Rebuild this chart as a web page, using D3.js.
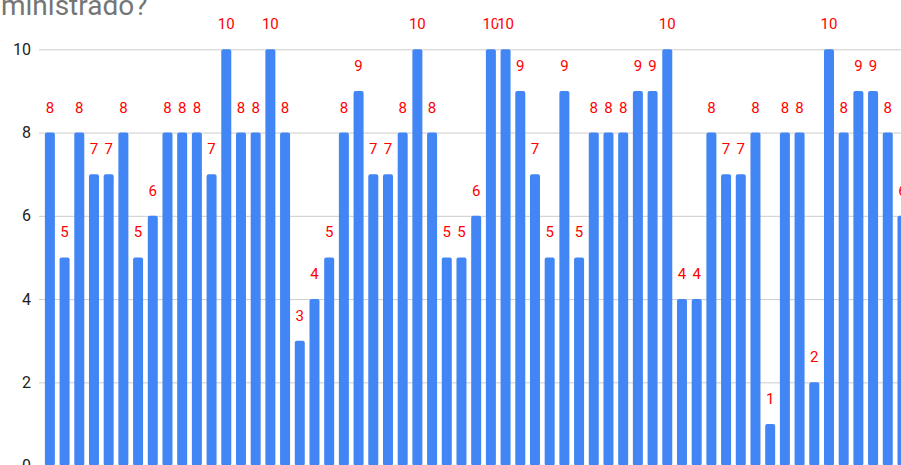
<!DOCTYPE html>
<html>
<head>
<meta charset="utf-8">
<script src="https://cdn.jsdelivr.net/npm/d3@7"></script>
<style>
  html, body { margin: 0; padding: 0; background: #fff; overflow: hidden; }
  svg { display: block; font-family: Roboto, "Noto Sans", Arial, sans-serif; }
</style>
</head>
<body>
<svg id="chart" width="901" height="465"></svg>
<script>
// Responses per respondent (score 0–10)
const respondents = d3.range(1, 60).map(i => "R" + i);
const scores = [
  8, 5, 8, 7, 7, 8, 5, 6, 8, 8,
  8, 7, 10, 8, 8, 10, 8, 3, 4, 5,
  8, 9, 7, 7, 8, 10, 8, 5, 5, 6,
  10, 10, 9, 7, 5, 9, 5, 8, 8, 8,
  9, 9, 10, 4, 4, 8, 7, 7, 8, 1,
  8, 8, 2, 10, 8, 9, 9, 8, 6
];
const yTicks = [0, 2, 4, 6, 8, 10];
const titleText = "ministrado?";

const svg = d3.select("#chart");

const left = 39;
const step = 14.7;
const padInner = 0.32, padOuter = 0.4;
const right = left + step * (scores.length - padInner + 2 * padOuter);

const x = d3.scaleBand()
  .domain(respondents)
  .range([left, right])
  .paddingInner(padInner)
  .paddingOuter(padOuter);

const y = d3.scaleLinear().domain([0, 10]).range([465.6, 49.3]);

// Title (second line of a wrapped title; the first line sits above the frame)
svg.append("text")
  .attr("x", 1)
  .attr("y", 15)
  .attr("fill", "#757575")
  .attr("font-size", 28)
  .text(titleText);

// Gridlines + y axis labels
const yAxis = d3.axisLeft(y).tickValues(yTicks).tickSize(-(right - left)).tickPadding(8);
const gy = svg.append("g").attr("transform", `translate(${left},0)`).call(yAxis);
gy.select(".domain").remove();
gy.selectAll(".tick line").attr("stroke", "#cccccc").attr("stroke-width", 1);
gy.selectAll(".tick text")
  .attr("fill", "#222")
  .attr("font-size", 16)
  .attr("font-family", "Roboto, Arial, sans-serif")
  .attr("x", -8);

// Bars
svg.append("g").selectAll("rect")
  .data(scores)
  .join("rect")
  .attr("x", (d, i) => x(respondents[i]))
  .attr("y", d => y(d))
  .attr("width", x.bandwidth())
  .attr("height", d => y(0) - y(d))
  .attr("rx", 2)
  .attr("fill", "#4285F4");

// Value annotations with a white halo
svg.append("g").selectAll("text")
  .data(scores)
  .join("text")
  .attr("x", (d, i) => x(respondents[i]) + x.bandwidth() / 2)
  .attr("y", d => y(d) - 20)
  .attr("text-anchor", "middle")
  .attr("font-size", 15)
  .attr("fill", "#ff0000")
  .attr("stroke", "#fff")
  .attr("stroke-width", 3)
  .attr("paint-order", "stroke")
  .text(d => d);
</script>
</body>
</html>
